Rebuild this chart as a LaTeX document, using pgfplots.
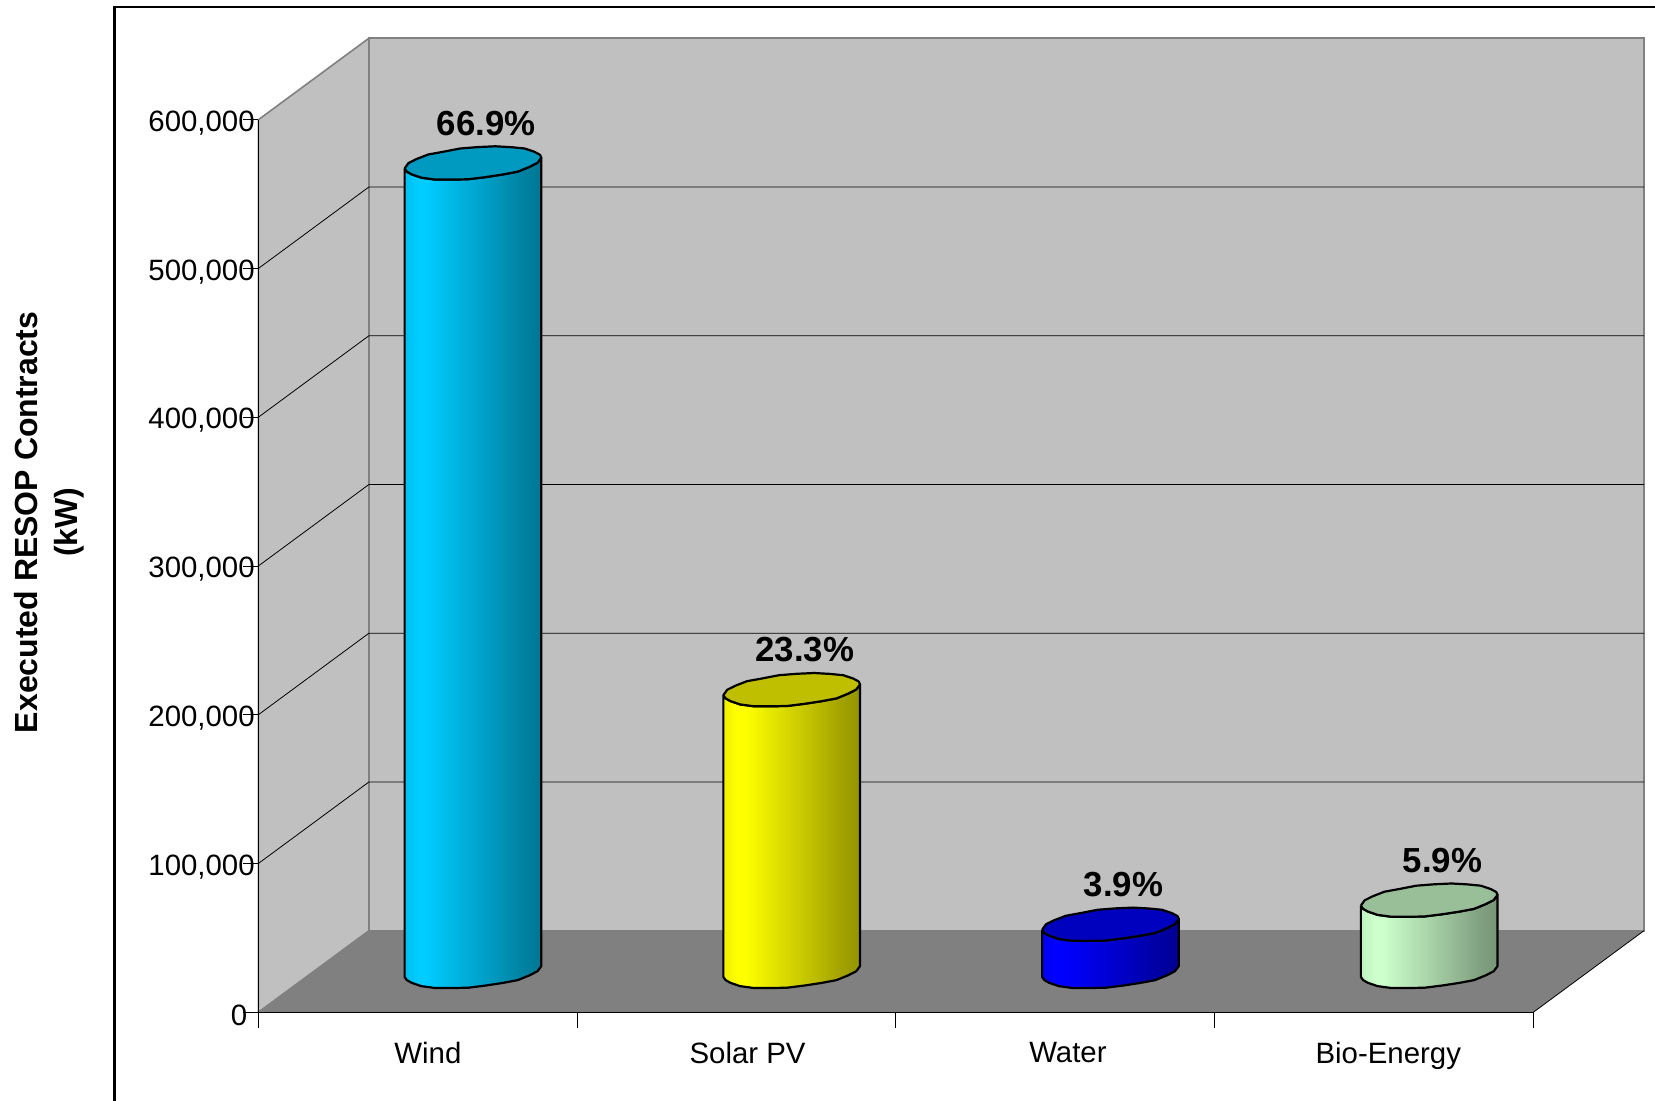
\documentclass[border=0pt]{standalone}
\usepackage{fontspec}
\setmainfont{Liberation Sans}
\usepackage{pgfplots}
\usepackage{pgfplotstable}
\pgfplotsset{compat=1.18}

% Outline of a cylinder's side and of its cap, offsets in device units around its centre
\pgfplotstableread{
dx dy lvl
-68.3 -5.4 1
-66 -8.6 1
-61.4 -11.2 1
-51.6 -14.6 1
-38.3 -16.4 1
-22.4 -16.5 1
-4.9 -16.2 1
12.8 -14 1
29.8 -11.4 1
44.7 -8.6 1
56.5 -3.8 1
64.5 0.3 1
68.3 5.4 1
68.3 5.4 0
64.5 0.3 0
56.5 -3.8 0
44.7 -8.6 0
29.8 -11.4 0
12.8 -14 0
-4.9 -16.2 0
-22.4 -16.5 0
-38.3 -16.4 0
-51.6 -14.6 0
-61.4 -11.2 0
-66 -8.6 0
-68.3 -5.4 0
-68.3 -5.4 1
}\cylbody
\pgfplotstableread{
dx dy lvl
-68.3 -5.4 1
-66 -8.6 1
-61.4 -11.2 1
-51.6 -14.6 1
-38.3 -16.4 1
-22.4 -16.5 1
-4.9 -16.2 1
12.8 -14 1
29.8 -11.4 1
44.7 -8.6 1
56.5 -3.8 1
64.5 0.3 1
68.3 5.4 1
67 8.3 1
61.4 11.3 1
51.6 14.6 1
38.3 15.9 1
22.4 16.8 1
4.9 16 1
-12.8 14.6 1
-29.8 11.3 1
-44.7 8.6 1
-56.5 4 1
-64.5 0 1
-68.3 -5.4 1
}\cylcap

\definecolor{wall}{HTML}{C0C0C0}
\definecolor{floorgray}{HTML}{808080}
\definecolor{cWind}{HTML}{00CCFF}
\definecolor{cSolar}{HTML}{FFFF00}
\definecolor{cWater}{HTML}{0000FF}
\definecolor{cBio}{HTML}{CCFFCC}

\newcommand\cylshade[2]{\pgfdeclarehorizontalshading{#1}{100bp}{%
  color(0bp)=(#2!94!black); color(25bp)=(#2!94!black); color(30bp)=(#2);
  color(33bp)=(#2); color(52.5bp)=(#2!80!black); color(67.5bp)=(#2!64!black);
  color(75bp)=(#2!58!black); color(100bp)=(#2!58!black)}}
\cylshade{shWind}{cWind}
\cylshade{shSolar}{cSolar}
\cylshade{shWater}{cWater}
\cylshade{shBio}{cBio}

% #1 category position, #2 value in kW, #3 shading, #4 base colour
\newcommand\cylinder[4]{%
  \addplot[draw=black, line width=1.1pt, line join=round, shade, shading=#3]
    table[x expr=\thisrow{dx}/318.6+#1+0.1734,
          y expr=\thisrow{dy}*672.27+\thisrow{lvl}*#2+27395] {\cylbody};
  \addplot[draw=black, line width=1.1pt, line join=round, fill=#4!75!black]
    table[x expr=\thisrow{dx}/318.6+#1+0.1734,
          y expr=\thisrow{dy}*672.27+\thisrow{lvl}*#2+27395] {\cylcap};
}

\begin{document}
\begin{tikzpicture}
\path[use as bounding box] (0,0) rectangle (827.5pt,550.5pt);
\draw[line width=1.1pt, line cap=butt] (57.2pt,0) -- (57.2pt,547.15pt) -- (827.5pt,547.15pt);
\begin{axis}[
  at={(129.15pt,44.35pt)}, anchor=south west,
  scale only axis, width=637.5pt, height=446.25pt,
  xmin=0, xmax=4, ymin=0, ymax=600000,
  clip=false, axis on top=true,
  axis x line*=bottom, axis y line*=left,
  axis line style={black, line width=0.6pt},
  tick style={black, line width=0.45pt},
  tick align=outside,
  major tick length=7.8pt,
  ytick={100000,200000,300000,400000,500000,600000},
  extra y ticks={0},
  extra y tick style={yticklabel style={xshift=-3.7pt}},
  scaled y ticks=false,
  /pgf/number format/fixed,
  /pgf/number format/1000 sep={,},
  /pgf/number format/assume math mode=true,
  xtick={0,1,2,3,4}, xticklabels={},
  extra x ticks={0.532,1.535,2.540,3.545},
  extra x tick labels={Wind,Solar PV,Water,Bio-Energy},
  extra x tick style={major tick length=0pt, xticklabel style={yshift=-11.3pt}},
  tick label style={font=\fontsize{14.7}{17}\selectfont},
  yticklabel style={inner sep=0pt, xshift=6.2pt, yshift=-1.6pt},
  every axis y label/.style={at={(axis description cs:-0.1638,0.549)},
    rotate=90, anchor=center, align=center,
    font=\fontsize{16}{20}\selectfont\bfseries},
  ylabel={Executed RESOP Contracts\\(kW)},
]
% side wall, back wall and floor of the plot box
\addplot[fill=wall, draw=floorgray, line width=0.8pt] coordinates
  {(0,0) (0,600000) (0.3468,654790) (0.3468,54790) (0,0)};
\addplot[fill=wall, draw=floorgray, line width=0.9pt] coordinates
  {(0.3468,54790) (0.3468,654790) (4.3468,654790) (4.3468,54790) (0.3468,54790)};
\addplot[fill=floorgray, draw=none] coordinates
  {(0,0) (4,0) (4.3468,54790) (0.3468,54790) (0,0)};
\addplot[black, line width=0.4pt] coordinates {(4,0) (4.3468,54790)};
% horizontal gridlines wrapping from side wall to back wall
\addplot[black, line width=0.4pt] coordinates {(0,100000) (0.3468,154790) (4.3468,154790)};
\addplot[black, line width=0.4pt] coordinates {(0,200000) (0.3468,254790) (4.3468,254790)};
\addplot[black, line width=0.4pt] coordinates {(0,300000) (0.3468,354790) (4.3468,354790)};
\addplot[black, line width=0.4pt] coordinates {(0,400000) (0.3468,454790) (4.3468,454790)};
\addplot[black, line width=0.4pt] coordinates {(0,500000) (0.3468,554790) (4.3468,554790)};

\cylinder{0.5}{543500}{shWind}{cWind}
\cylinder{1.5}{189400}{shSolar}{cSolar}
\cylinder{2.5}{31700}{shWater}{cWater}
\cylinder{3.5}{47900}{shBio}{cBio}

% share of the total above each cylinder
\addplot[draw=none, point meta=explicit symbolic, nodes near coords,
  every node near coord/.style={anchor=center, inner sep=0pt, xshift=34.2pt, yshift=40.3pt,
    font=\fontsize{17.4}{20}\selectfont\bfseries, text=black}]
  coordinates {(0.5,543500)[66.9\%] (1.5,189400)[23.3\%] (2.5,31700)[3.9\%] (3.5,47900)[5.9\%]};
\end{axis}
\end{tikzpicture}
\end{document}
